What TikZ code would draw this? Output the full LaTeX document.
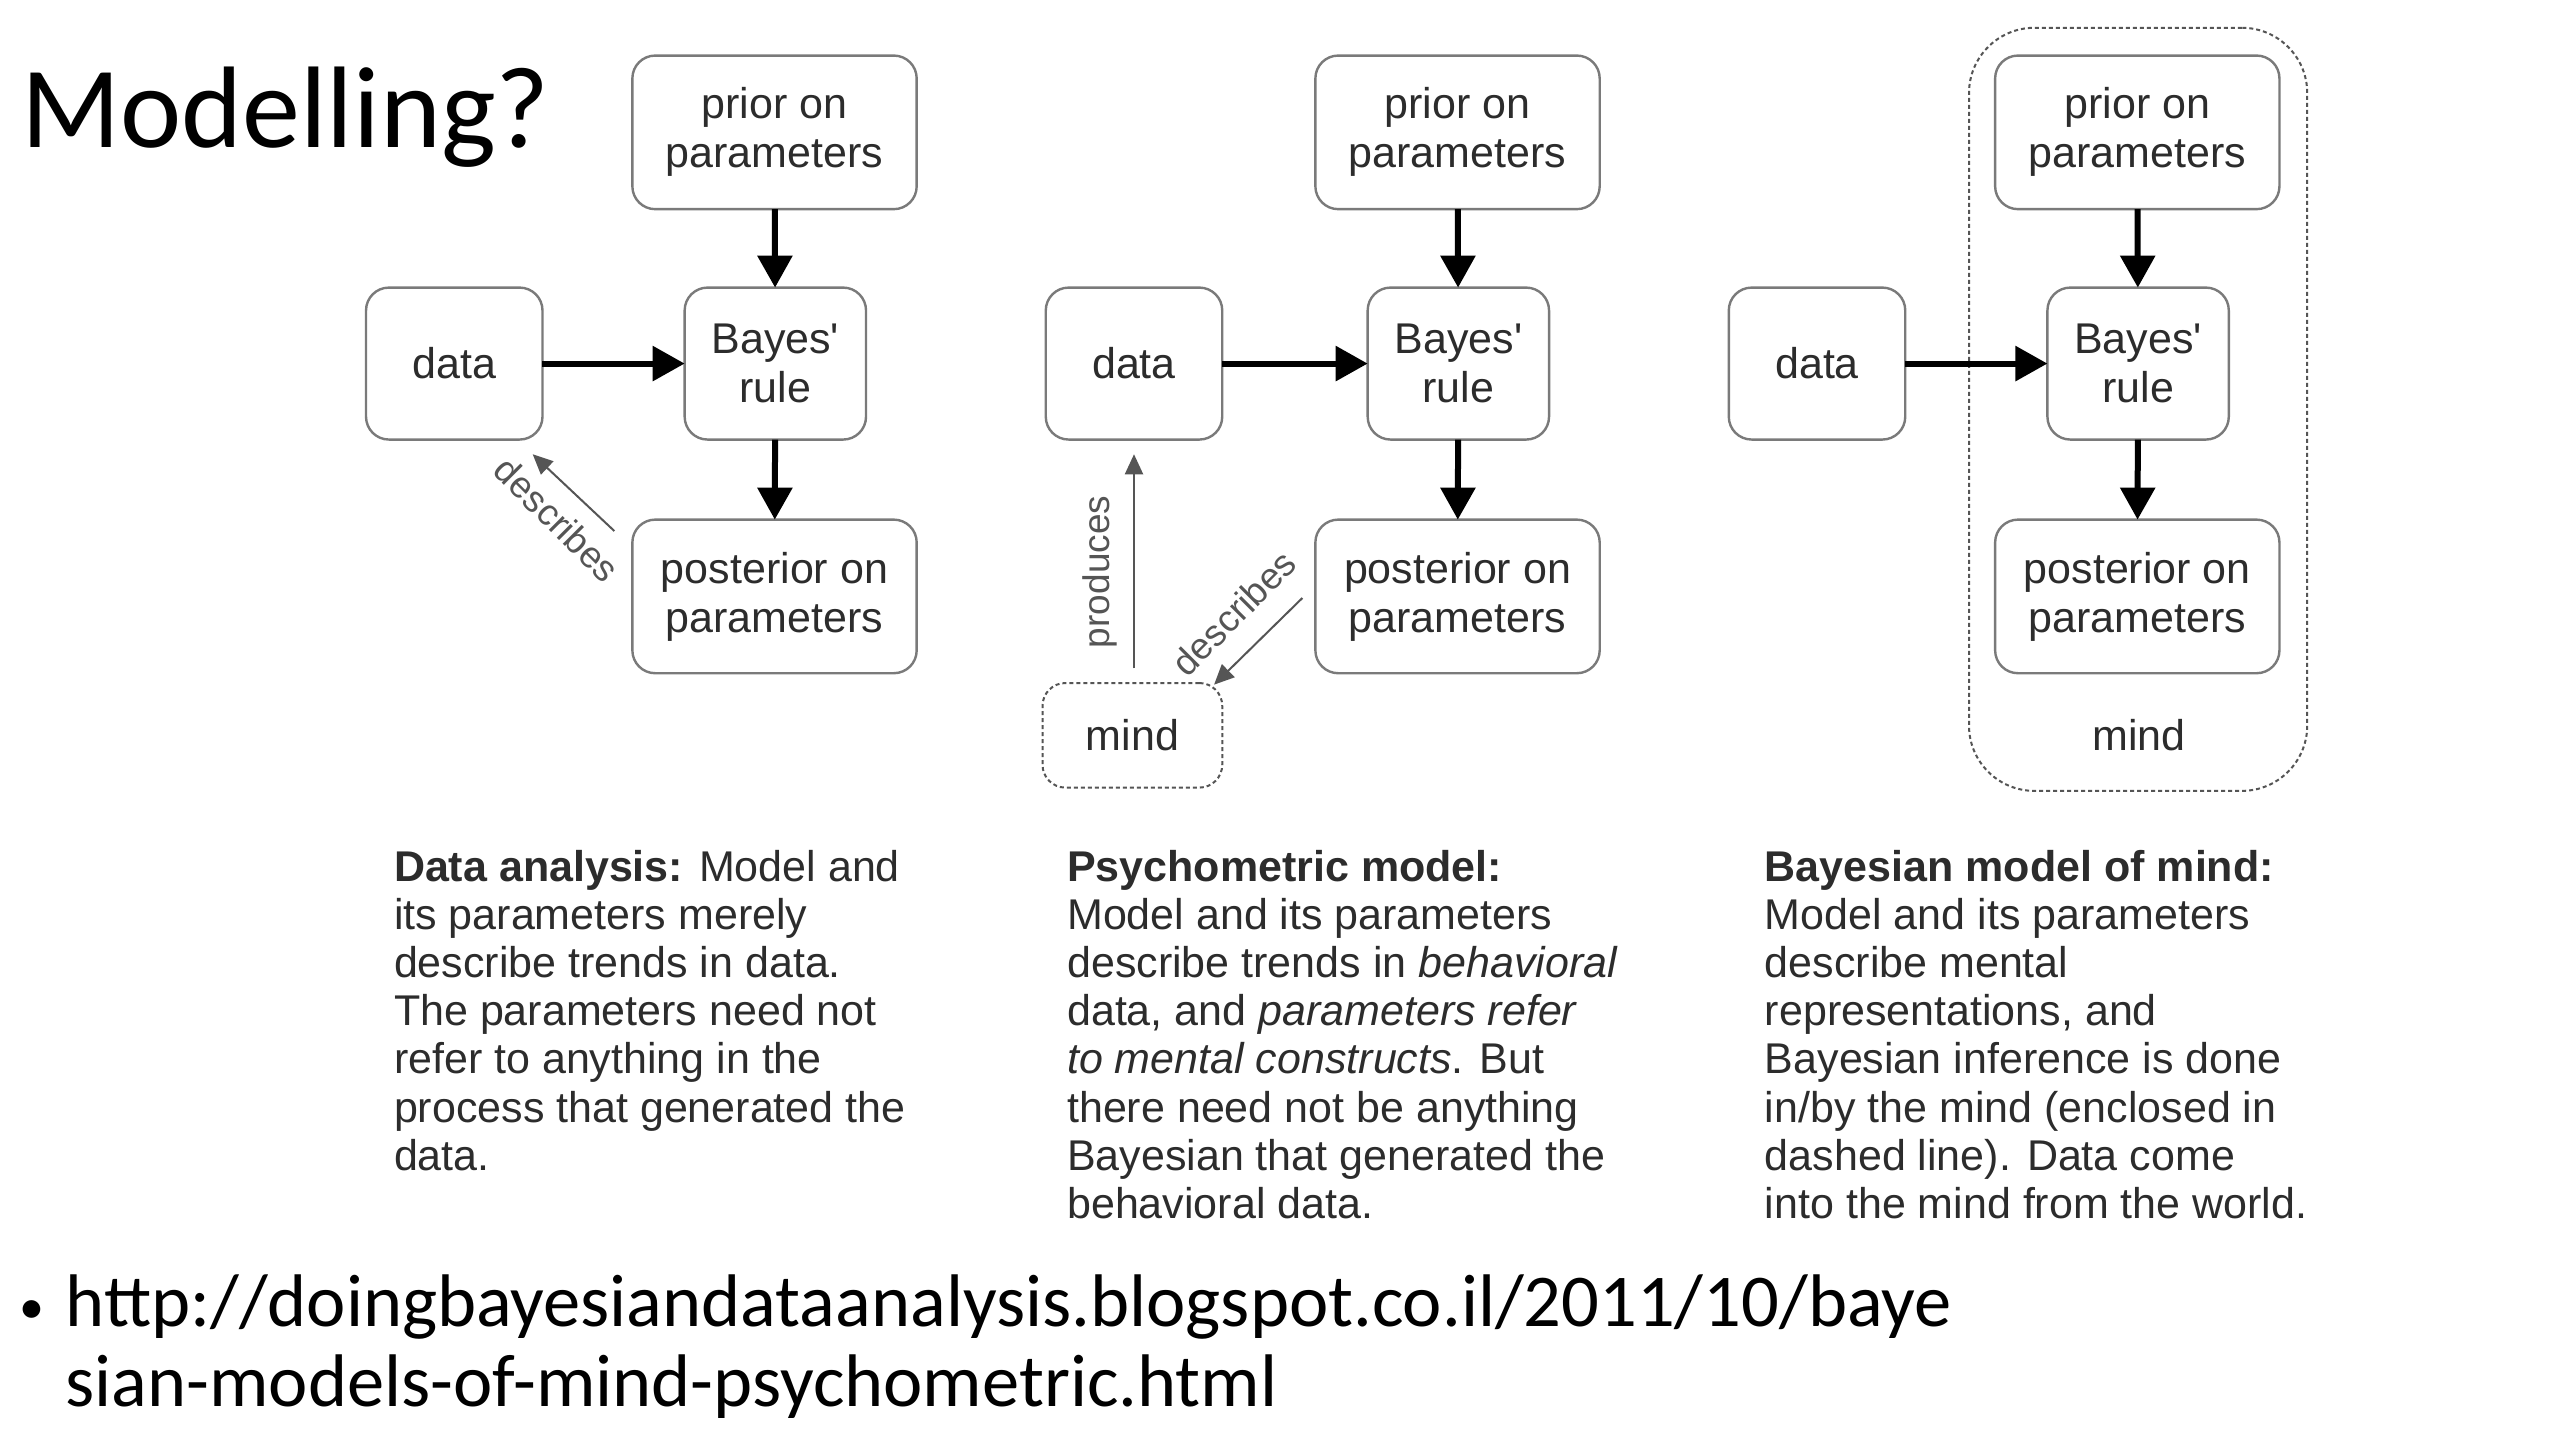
\documentclass[tikz,border=0pt]{standalone}
\usepackage{fontspec}
\setmainfont{Liberation Sans}
\newfontfamily\calibri{Carlito}
\usetikzlibrary{arrows.meta}
\definecolor{boxline}{HTML}{7A7A7A}
\definecolor{boxtext}{HTML}{2C2C2C}
\definecolor{lbl}{HTML}{555555}
\def\uu{1.634pt}
\tikzset{
  box/.style={draw=boxline, line width=2.4pt, rounded corners=14*\uu, fill=white,
    inner sep=0pt, outer sep=0pt, align=center, text=boxtext,
    font=\fontsize{43}{49}\selectfont},
  widebox/.style={box, minimum width=174*\uu, minimum height=94*\uu},
  bayesbox/.style={box, minimum width=111*\uu, minimum height=93*\uu},
  databox/.style={box, minimum width=108*\uu, minimum height=93*\uu},
  mindbox/.style={box, draw=lbl, line width=2pt, dash pattern=on 4pt off 3pt,
    minimum width=110*\uu, minimum height=64*\uu},
  bigarrow/.style={line width=6pt, -{Triangle[length=32pt,width=34pt]}},
  thinarrow/.style={draw=lbl, line width=2pt, -{Triangle[length=20pt,width=18pt]}},
  lbltext/.style={text=lbl, font=\fontsize{37}{40}\selectfont, inner sep=0pt},
  desc/.style={anchor=north west, inner sep=0pt, align=left, text=boxtext,
    font=\fontsize{43}{48.2}\selectfont},
  title/.style={anchor=base west, inner sep=0pt, font=\calibri\fontsize{116}{120}\selectfont},
  url/.style={anchor=base west, inner sep=0pt, font=\calibri\fontsize{74.5}{80}\selectfont}
}
\begin{document}
\begin{tikzpicture}[x=\uu,y=-\uu]
\useasboundingbox[fill=white] (0,0) rectangle (1566.7,881.3);

\node[title] (title) at (13,90) {Modelling?};

% ---------- panel 1 ----------
\node[widebox] (prior1) at (474,81) {prior on\\parameters};
\node[bayesbox] (bayes1) at (474.5,222.5) {Bayes\textquotesingle\\rule};
\node[databox] (data1) at (278,222.5) {data};
\node[widebox] (post1) at (474,365) {posterior on\\parameters};
\draw[bigarrow] (prior1) -- (bayes1);
\draw[bigarrow] (bayes1) -- (post1);
\draw[bigarrow] (data1) -- (bayes1);
\draw[thinarrow] ([shift={(-11,7)}]post1.north west) -- ([shift={(-6,9)}]data1.south east);
\node[lbltext, rotate=-45] (desc1) at (341,318) {describes};

% ---------- panel 2 ----------
\node[widebox] (prior2) at (892,81) {prior on\\parameters};
\node[bayesbox] (bayes2) at (892.5,222.5) {Bayes\textquotesingle\\rule};
\node[databox] (data2) at (694,222.5) {data};
\node[widebox] (post2) at (892,365) {posterior on\\parameters};
\node[mindbox] (mind2) at (693,450) {mind};
\draw[bigarrow] (prior2) -- (bayes2);
\draw[bigarrow] (bayes2) -- (post2);
\draw[bigarrow] (data2) -- (bayes2);
\draw[thinarrow] ([shift={(1,-9)}]mind2.north) -- ([shift={(0,9)}]data2.south);
\node[lbltext, rotate=90] (prod2) at (673,350) {produces};
\draw[thinarrow] ([shift={(-8,1)}]post2.west) -- ([shift={(-5,1)}]mind2.north east);
\node[lbltext, rotate=45] (desc2) at (755,375) {describes};

% ---------- panel 3 ----------
\node[draw=lbl, line width=2pt, dash pattern=on 4pt off 3pt, rounded corners=40*\uu,
  minimum width=207*\uu, minimum height=467*\uu, inner sep=0pt] (mindarea) at (1308.5,250.5) {};
\node[widebox] (prior3) at (1308,81) {prior on\\parameters};
\node[bayesbox] (bayes3) at (1308.5,222.5) {Bayes\textquotesingle\\rule};
\node[databox] (data3) at (1112,222.5) {data};
\node[widebox] (post3) at (1308,365) {posterior on\\parameters};
\node[text=boxtext, font=\fontsize{43}{49}\selectfont, inner sep=0pt] (mind3) at (1309,450) {mind};
\draw[bigarrow] (prior3) -- (bayes3);
\draw[bigarrow] (bayes3) -- (post3);
\draw[bigarrow] (data3) -- (bayes3);

% ---------- descriptions ----------
\node[desc] (text1) at (241,520) {\textbf{Data analysis:} Model and\\its parameters merely\\describe trends in data.\\The parameters need not\\refer to anything in the\\process that generated the\\data.};
\node[desc] (text2) at (653,520) {\textbf{Psychometric model:}\\Model and its parameters\\describe trends in \textit{behavioral}\\data, and \textit{parameters refer}\\\textit{to mental constructs}. But\\there need not be anything\\Bayesian that generated the\\behavioral data.};
\node[desc] (text3) at (1080,520) {\textbf{Bayesian model of mind:}\\Model and its parameters\\describe mental\\representations, and\\Bayesian inference is done\\in/by the mind (enclosed in\\dashed line). Data come\\into the mind from the world.};

% ---------- url ----------
\node[anchor=base west, inner sep=0pt, font=\calibri\fontsize{50}{50}\selectfont] (bullet) at (12,810) {•};
\node[url] (url1) at (40,812) {http://doingbayesiandataanalysis.blogspot.co.il/2011/10/baye};
\node[url] (url2) at (40,861) {sian-models-of-mind-psychometric.html};
\end{tikzpicture}
\end{document}
